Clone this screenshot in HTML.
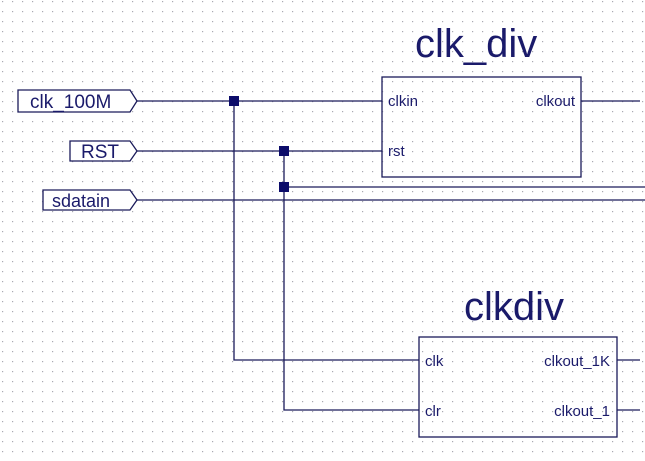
<!DOCTYPE html>
<html><head><style>
html,body{margin:0;padding:0;background:#fff;}
body{width:645px;height:456px;overflow:hidden;}
</style></head><body>
<svg width="645" height="456" xmlns="http://www.w3.org/2000/svg" font-family="Liberation Sans, Arial, sans-serif">
<defs>
<pattern id="g" width="10" height="10" patternUnits="userSpaceOnUse" x="2" y="1">
<rect x="0" y="0" width="1.2" height="1.2" fill="#a8a8b0"/>
</pattern>
</defs>
<rect width="645" height="456" fill="#fff"/>
<rect width="645" height="456" fill="url(#g)"/>
<g stroke="#1a1a5a" stroke-width="1.3" fill="none">
<!-- input ports -->
<path d="M18 90 H130 L137 101 L130 112 H18 Z" fill="#fff"/>
<path d="M70 141 H130 L137 151 L130 161 H70 Z" fill="#fff"/>
<path d="M43 190 H130 L137 200 L130 210 H43 Z" fill="#fff"/>
<!-- wires -->
<path d="M137 101 H382"/>
<path d="M137 151 H382"/>
<path d="M137 200 H645"/>
<path d="M284 187 H645"/>
<path d="M234 101 V360 H419"/>
<path d="M284 151 V410 H419"/>
<path d="M581 101 H640"/>
<path d="M617 360 H640"/>
<path d="M617 410 H640"/>
<!-- blocks -->
<rect x="382" y="77" width="199" height="100" fill="none"/>
<rect x="419" y="337" width="198" height="100" fill="none"/>
</g>
<g fill="#0c0c6a">
<rect x="229" y="96" width="10" height="10"/>
<rect x="279" y="146" width="10" height="10"/>
<rect x="279" y="182" width="10" height="10"/>
</g>
<g fill="#1a1a6a">
<text x="30" y="108" font-size="19">clk_100M</text>
<text x="81" y="158" font-size="19">RST</text>
<text x="52" y="207" font-size="18">sdatain</text>
<text x="415" y="57" font-size="40">clk_div</text>
<text x="464" y="320" font-size="40">clkdiv</text>
<text x="388" y="106" font-size="15">clkin</text>
<text x="388" y="156" font-size="15">rst</text>
<text x="575" y="106" font-size="15" text-anchor="end">clkout</text>
<text x="425" y="366" font-size="15">clk</text>
<text x="425" y="416" font-size="15">clr</text>
<text x="610" y="366" font-size="15" text-anchor="end">clkout_1K</text>
<text x="610" y="416" font-size="15" text-anchor="end">clkout_1</text>
</g>
</svg>
</body></html>
